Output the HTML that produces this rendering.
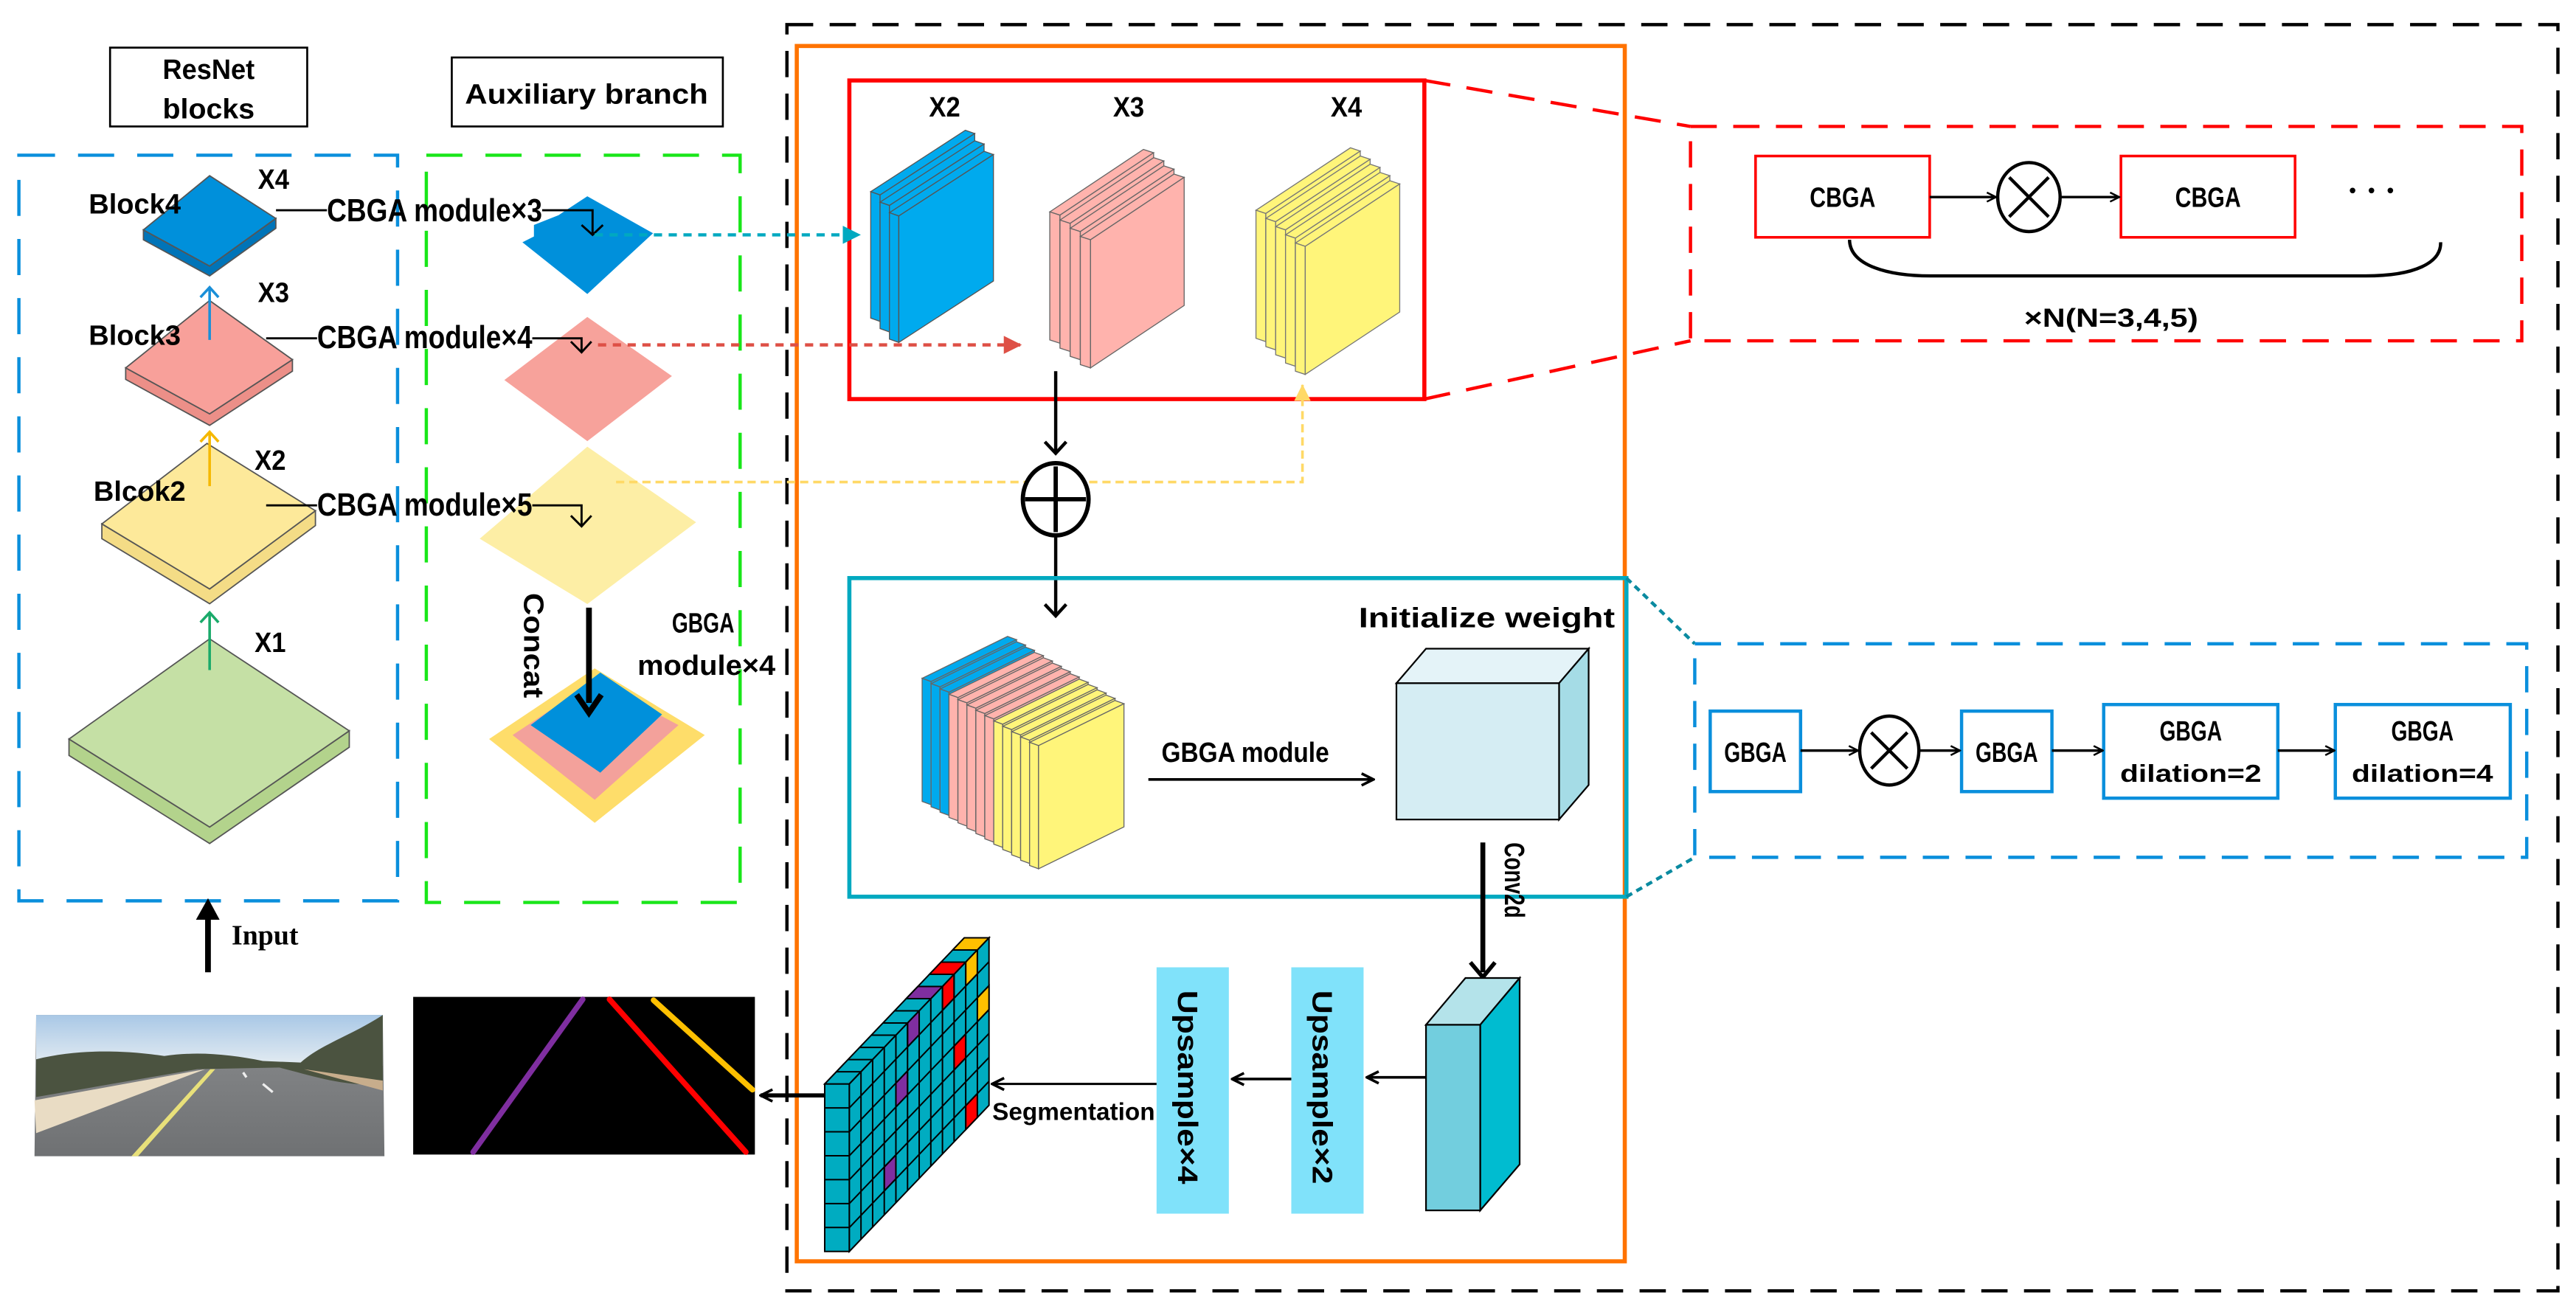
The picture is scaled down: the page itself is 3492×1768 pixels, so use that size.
<!DOCTYPE html>
<html><head><meta charset="utf-8"><style>
html,body{margin:0;padding:0;background:#fff;}
svg{display:block;}
text{font-family:"Liberation Sans","Noto Sans CJK SC",sans-serif;font-weight:bold;fill:#000;}
</style></head><body>
<svg width="3492" height="1768" viewBox="0 0 1568 794" preserveAspectRatio="none" xmlns="http://www.w3.org/2000/svg">
<defs>
<marker id="ah" viewBox="0 0 10 10" refX="9" refY="5" markerWidth="7" markerHeight="7" orient="auto" markerUnits="userSpaceOnUse"><path d="M1,1 L9,5 L1,9" fill="none" stroke="#000" stroke-width="1.6"/></marker>
<marker id="ahb" viewBox="0 0 10 10" refX="9" refY="5" markerWidth="9" markerHeight="9" orient="auto" markerUnits="userSpaceOnUse"><path d="M1,1 L9,5 L1,9" fill="none" stroke="#000" stroke-width="1.8"/></marker>
<marker id="tc" viewBox="0 0 10 10" refX="10" refY="5" markerWidth="11" markerHeight="11" orient="auto" markerUnits="userSpaceOnUse"><path d="M0,0 L10,5 L0,10z" fill="#00a9c0"/></marker>
<marker id="tr" viewBox="0 0 10 10" refX="10" refY="5" markerWidth="11" markerHeight="11" orient="auto" markerUnits="userSpaceOnUse"><path d="M0,0 L10,5 L0,10z" fill="#de5046"/></marker>
<marker id="ty" viewBox="0 0 10 10" refX="10" refY="5" markerWidth="10" markerHeight="10" orient="auto" markerUnits="userSpaceOnUse"><path d="M0,0 L10,5 L0,10z" fill="#ffd966"/></marker>
<linearGradient id="sky" x1="0" y1="0" x2="0" y2="1"><stop offset="0" stop-color="#a9c8e6"/><stop offset="1" stop-color="#e4ecf2"/></linearGradient>
<linearGradient id="road" x1="0" y1="0" x2="0" y2="1"><stop offset="0" stop-color="#8a8c8e"/><stop offset="1" stop-color="#6f7173"/></linearGradient>
<g id="slabB" stroke="#555" stroke-width="0.6">
<polygon points="0,0 5.7,2 63.3,-35.4 57.6,-37.4"/><polygon points="0,0 5.7,2 5.7,79 0,77"/><polygon points="5.7,2 63.3,-35.4 63.3,41.6 5.7,79"/>
</g>
<g id="slabP" stroke="#666" stroke-width="0.6">
<polygon points="0,0 6.2,2 63.2,-36 57,-38"/><polygon points="0,0 6.2,2 6.2,80 0,78"/><polygon points="6.2,2 63.2,-36 63.2,42 6.2,80"/>
</g>
<g id="slabY" stroke="#777" stroke-width="0.6">
<polygon points="0,0 6,2 63.5,-36 57.5,-38"/><polygon points="0,0 6,2 6,80 0,78"/><polygon points="6,2 63.5,-36 63.5,42 6,80"/>
</g>
<g id="slabC" stroke="#666" stroke-width="0.6">
<polygon points="0,0 5.45,2 57.45,-23.5 52,-25.5"/><polygon points="0,0 5.45,2 5.45,77 0,75"/><polygon points="5.45,2 57.45,-23.5 57.45,51.5 5.45,77"/>
</g>
</defs>

<!-- outer black dashed -->
<rect x="479" y="15" width="1078" height="771" fill="none" stroke="#000" stroke-width="2" stroke-dasharray="16,10"/>
<!-- orange -->
<rect x="485" y="28" width="504" height="740" fill="none" stroke="#ff7300" stroke-width="2.5"/>
<!-- left blue dashed -->
<rect x="11.5" y="94.5" width="230.5" height="454" fill="none" stroke="#0a8fdc" stroke-width="2" stroke-dasharray="22,14"/>
<!-- green dashed -->
<rect x="259.5" y="94.5" width="191" height="455" fill="none" stroke="#19e619" stroke-width="2" stroke-dasharray="22,14"/>

<!-- title boxes -->
<rect x="67" y="29" width="120" height="48" fill="#fff" stroke="#000" stroke-width="1.2"/>
<text x="127" y="48" font-size="17" text-anchor="middle" textLength="56" lengthAdjust="spacingAndGlyphs">ResNet</text>
<text x="127" y="72" font-size="17" text-anchor="middle" textLength="56" lengthAdjust="spacingAndGlyphs">blocks</text>
<rect x="275" y="35" width="165" height="42" fill="#fff" stroke="#000" stroke-width="1.2"/>
<text x="357" y="63" font-size="17" text-anchor="middle" textLength="148" lengthAdjust="spacingAndGlyphs">Auxiliary branch</text>

<!-- ResNet blocks -->
<g stroke="#555" stroke-width="0.8">
<polygon points="42,450 127.6,503.6 212.6,445 212.6,455 127.6,513.6 42,460" fill="#b3d38c"/>
<polygon points="42,450 127.6,389 212.6,445 127.6,503.6" fill="#c5e0a5"/>
<polygon points="62,319 127.6,358.6 192,311 192,320 127.6,367.6 62,328" fill="#f4dc86"/>
<polygon points="62,319 126,270 192,311 127.6,358.6" fill="#fde99a"/>
<polygon points="76.5,224 127.6,252 178,219 178,226 127.6,259 76.5,231" fill="#ec8f88"/>
<polygon points="76.5,224 127.6,183 178,219 127.6,252" fill="#f8a09a"/>
<polygon points="87.3,140 127.6,162 167.9,133 167.9,139 127.6,168 87.3,146" fill="#0074b8"/>
<polygon points="87.3,140 127.6,107 167.9,133 127.6,162" fill="#0090db"/>
</g>
<g fill="none" stroke-width="1.6">
<path d="M127.6,207 V176 M122,181 L127.6,175 L133,181" stroke="#1a8fd8"/>
<path d="M127.6,296 V264 M122,269 L127.6,263 L133,269" stroke="#f5b800"/>
<path d="M127.6,408 V374 M122,379 L127.6,373 L133,379" stroke="#1aaa6a"/>
</g>
<text x="54" y="130" font-size="17" textLength="56" lengthAdjust="spacingAndGlyphs">Block4</text>
<text x="157" y="115" font-size="17" textLength="19" lengthAdjust="spacingAndGlyphs">X4</text>
<text x="54" y="210" font-size="17" textLength="56" lengthAdjust="spacingAndGlyphs">Block3</text>
<text x="157" y="184" font-size="17" textLength="19" lengthAdjust="spacingAndGlyphs">X3</text>
<text x="57" y="305" font-size="17" textLength="56" lengthAdjust="spacingAndGlyphs">Blcok2</text>
<text x="155" y="286" font-size="17" textLength="19" lengthAdjust="spacingAndGlyphs">X2</text>
<text x="155" y="397" font-size="17" textLength="19" lengthAdjust="spacingAndGlyphs">X1</text>

<!-- aux shapes -->
<polygon points="318,147.5 325,144 325,137 340,131 357.5,119.5 397.5,142 357.5,179" fill="#0090db"/>
<polygon points="307,231.4 357.5,193 409,229 357.5,268.6" fill="#f7a29b"/>
<polygon points="292,328 357.5,272 423.7,318 357.5,367.8" fill="#fdeea5"/>
<polygon points="297.7,450 362,407 429,447.6 362,501" fill="#fedd6a"/>
<polygon points="312,447.6 362,414.5 413,441.5 362,487" fill="#f3a19b"/>
<polygon points="323,441.5 365.4,409.5 403,435 365.4,470.5" fill="#0090db"/>

<!-- CBGA module labels -->
<g stroke="#000" stroke-width="1.3" fill="none">
<path d="M168,128 H199"/><path d="M330,128 H360.7 V142"/><path d="M354,137 L360.7,143 L367,137"/>
<path d="M162,206 H193"/><path d="M324,206 H354 V214"/><path d="M347.5,208 L354,214.5 L360,208"/>
<path d="M162,307.7 H193"/><path d="M324,307.7 H354 V320"/><path d="M347.5,314 L354,320.5 L360,314"/>
</g>
<text x="199" y="134.7" font-size="19.5" textLength="131" lengthAdjust="spacingAndGlyphs">CBGA module×3</text>
<text x="193" y="212" font-size="19.5" textLength="131" lengthAdjust="spacingAndGlyphs">CBGA module×4</text>
<text x="193" y="314" font-size="19.5" textLength="131" lengthAdjust="spacingAndGlyphs">CBGA module×5</text>

<!-- concat -->
<path d="M358.5,370 V428" stroke="#000" stroke-width="3.5"/>
<path d="M351,423 L358.5,434 L366,423" stroke="#000" stroke-width="3.5" fill="none"/>
<text transform="translate(319,361) rotate(90)" font-size="17" textLength="64" lengthAdjust="spacingAndGlyphs">Concat</text>
<text x="428" y="385" font-size="17" text-anchor="middle" textLength="38" lengthAdjust="spacingAndGlyphs">GBGA</text>
<text x="430" y="411" font-size="17" text-anchor="middle" textLength="84" lengthAdjust="spacingAndGlyphs">module×4</text>

<!-- red box -->
<rect x="517" y="49" width="350" height="194" fill="none" stroke="#ff0000" stroke-width="2.5"/>
<text x="575" y="71" font-size="17" text-anchor="middle" textLength="19" lengthAdjust="spacingAndGlyphs">X2</text>
<text x="687" y="71" font-size="17" text-anchor="middle" textLength="19" lengthAdjust="spacingAndGlyphs">X3</text>
<text x="819.5" y="71" font-size="17" text-anchor="middle" textLength="19" lengthAdjust="spacingAndGlyphs">X4</text>

<!-- stacks -->
<g fill="#00aaee">
<use href="#slabB" x="530" y="116.7"/><use href="#slabB" x="535.7" y="123.1"/><use href="#slabB" x="541.4" y="129.5"/>
</g>
<g fill="#ffb3ad">
<use href="#slabP" x="639" y="129"/><use href="#slabP" x="645.2" y="134"/><use href="#slabP" x="651.4" y="139"/><use href="#slabP" x="657.6" y="144"/>
</g>
<g fill="#fff57a">
<use href="#slabY" x="764.5" y="128"/><use href="#slabY" x="770.5" y="133"/><use href="#slabY" x="776.5" y="138"/><use href="#slabY" x="782.5" y="143"/><use href="#slabY" x="788.5" y="148"/>
</g>

<!-- dotted arrows -->
<path d="M362,143 H524" stroke="#00a9c0" stroke-width="2" stroke-dasharray="5,4" fill="none" marker-end="url(#tc)"/>
<path d="M364,210 H622" stroke="#de5046" stroke-width="2" stroke-dasharray="5,4" fill="none" marker-end="url(#tr)"/>
<path d="M375,293.5 H792.8 V234" stroke="#ffd966" stroke-width="1.6" stroke-dasharray="5,3" fill="none" marker-end="url(#ty)"/>

<!-- plus circle -->
<path d="M642.6,226 V275" stroke="#000" stroke-width="2"/>
<path d="M636,269 L642.6,276 L649,269" stroke="#000" stroke-width="2" fill="none"/>
<ellipse cx="642.6" cy="304" rx="20" ry="22" fill="#fff" stroke="#000" stroke-width="2.6"/>
<path d="M624,304 H661 M642.6,284 V324" stroke="#000" stroke-width="2.6"/>
<path d="M642.6,327 V374" stroke="#000" stroke-width="2"/>
<path d="M636,368 L642.6,375 L649,368" stroke="#000" stroke-width="2" fill="none"/>

<!-- teal box -->
<rect x="517" y="352" width="473" height="194" fill="none" stroke="#00a9c0" stroke-width="2.5"/>
<g fill="#00aaee">
<use href="#slabC" x="561.3" y="413"/><use href="#slabC" x="566.75" y="416.25"/><use href="#slabC" x="572.2" y="419.5"/>
</g>
<g fill="#ffb3ad">
<use href="#slabC" x="577.65" y="422.75"/><use href="#slabC" x="583.1" y="426"/><use href="#slabC" x="588.55" y="429.25"/><use href="#slabC" x="594" y="432.5"/><use href="#slabC" x="599.45" y="435.75"/>
</g>
<g fill="#fff57a">
<use href="#slabC" x="604.9" y="439"/><use href="#slabC" x="610.35" y="442.25"/><use href="#slabC" x="615.8" y="445.5"/><use href="#slabC" x="621.25" y="448.75"/><use href="#slabC" x="626.7" y="452"/>
</g>
<text x="905" y="382" font-size="17" text-anchor="middle" textLength="156" lengthAdjust="spacingAndGlyphs">Initialize weight</text>
<text x="707" y="464" font-size="17" textLength="102" lengthAdjust="spacingAndGlyphs">GBGA module</text>
<path d="M699,474.6 H836" stroke="#000" stroke-width="1.6" fill="none" marker-end="url(#ahb)"/>
<polygon points="850,416 868,395 967,395 949,416" fill="#e4f3f8" stroke="#000" stroke-width="1"/>
<polygon points="949,416 967,395 967,478 949,499" fill="#a5dce6" stroke="#000" stroke-width="1"/>
<rect x="850" y="416" width="99" height="83" fill="#d5edf3" stroke="#000" stroke-width="1"/>
<!-- conv2d -->
<path d="M902.6,513 V592" stroke="#000" stroke-width="3"/>
<path d="M895,586 L902.6,595 L910,586" stroke="#000" stroke-width="2.5" fill="none"/>
<text transform="translate(916,513) rotate(90)" font-size="17" textLength="46" lengthAdjust="spacingAndGlyphs">Conv2d</text>
<polygon points="868,624 892,595.5 925,595.5 901,624" fill="#b4e3ea" stroke="#000" stroke-width="1"/>
<polygon points="901,624 925,595.5 925,709 901,737" fill="#00bcd0" stroke="#000" stroke-width="1"/>
<rect x="868" y="624" width="33" height="113" fill="#72cede" stroke="#000" stroke-width="1"/>

<!-- upsample -->
<rect x="704" y="589" width="44" height="150" fill="#80e2fa"/>
<rect x="786" y="589" width="44" height="150" fill="#80e2fa"/>
<text transform="translate(717,603) rotate(90)" font-size="17" textLength="118" lengthAdjust="spacingAndGlyphs">Upsample×4</text>
<text transform="translate(799,603) rotate(90)" font-size="17" textLength="118" lengthAdjust="spacingAndGlyphs">Upsample×2</text>
<path d="M868,656 H832" stroke="#000" stroke-width="1.6" marker-end="url(#ahb)"/>
<path d="M786,657 H750" stroke="#000" stroke-width="1.6" marker-end="url(#ahb)"/>
<path d="M704,660 H604" stroke="#000" stroke-width="1.4" marker-end="url(#ahb)"/>
<text x="604" y="682" font-size="15" textLength="99" lengthAdjust="spacingAndGlyphs">Segmentation</text>

<!-- grid -->
<g stroke="#000" stroke-width="0.9">
<rect x="502" y="660" width="15" height="102" fill="#00acc1"/>
<polygon points="502,660 517,660 602,571 587,571" fill="#00acc1"/>
<polygon points="517,660 602,571 602,673 517,762" fill="#00acc1"/>
<polygon points="545.33,659.47 552.42,652.06 552.42,666.63 545.33,674.04" fill="#7f2ea0"/>
<polygon points="538.25,710.61 545.33,703.19 545.33,717.76 538.25,725.18" fill="#7f2ea0"/>
<polygon points="552.42,622.92 559.5,615.5 559.5,630.07 552.42,637.49" fill="#7f2ea0"/>
<polygon points="573.67,600.67 580.75,593.25 580.75,607.82 573.67,615.24" fill="#ff0000"/>
<polygon points="580.75,636.96 587.83,629.54 587.83,644.11 580.75,651.53" fill="#ff0000"/>
<polygon points="587.83,673.26 594.92,665.84 594.92,680.41 587.83,687.83" fill="#ff0000"/>
<polygon points="587.83,585.83 594.92,578.42 594.92,592.99 587.83,600.4" fill="#ffc000"/>
<polygon points="594.92,607.56 602,600.14 602,614.71 594.92,622.13" fill="#ffc000"/>
<polygon points="551.58,608.08 566.58,608.08 573.67,600.67 558.67,600.67" fill="#7f2ea0"/>
<polygon points="565.75,593.25 580.75,593.25 587.83,585.83 572.83,585.83" fill="#ff0000"/>
<polygon points="579.92,578.42 594.92,578.42 602,571 587,571" fill="#ffc000"/>
<path fill="none" d="M502,674.57 h15 M502,689.14 h15 M502,703.71 h15 M502,718.29 h15 M502,732.86 h15 M502,747.43 h15
M524.08,652.58 v102 M531.17,645.17 v102 M538.25,637.75 v102 M545.33,630.33 v102 M552.42,622.92 v102 M559.5,615.5 v102 M566.58,608.08 v102 M573.67,600.67 v102 M580.75,593.25 v102 M587.83,585.83 v102 M594.92,578.42 v102
M517,674.57 L602,585.57 M517,689.14 L602,600.14 M517,703.71 L602,614.71 M517,718.29 L602,629.29 M517,732.86 L602,643.86 M517,747.43 L602,658.43
M509.08,652.58 h15 M516.17,645.17 h15 M523.25,637.75 h15 M530.33,630.33 h15 M537.42,622.92 h15 M544.5,615.5 h15 M551.58,608.08 h15 M558.67,600.67 h15 M565.75,593.25 h15 M572.83,585.83 h15 M579.92,578.42 h15"/>
</g>
<path d="M502,667 H463" stroke="#000" stroke-width="2.5" marker-end="url(#ahb)"/>

<!-- seg image -->
<rect x="251.5" y="607" width="208" height="96" fill="#000"/>
<g stroke-linecap="round" stroke-width="3.4">
<line x1="354.7" y1="608.5" x2="288" y2="701.5" stroke="#7f2ea0"/>
<line x1="371" y1="608.5" x2="454" y2="701.5" stroke="#ff0000"/>
<line x1="397.8" y1="609" x2="458" y2="663.5" stroke="#ffc000"/>
</g>

<!-- road image -->
<g>
<polygon points="22,618 233,618 234,704 21,704" fill="url(#road)"/>
<polygon points="22,618 233,618 233,649 22,649" fill="url(#sky)"/>
<path d="M22,645 C50,638 80,640 100,643 C120,640 140,642 160,646 L183,647 C195,636 215,630 233,618 L233,660 C210,662 190,655 170,650 L120,651 L22,668 Z" fill="#4b5340"/>
<path d="M21,670 L125,651 L22,690 Z" fill="#e9dcc4"/>
<path d="M185,651 L233,658 L233,664 Z" fill="#c7ad8c"/>
<path d="M128,651 L80,704 L84,704 L131,651 Z" fill="#e8e07a"/>
<path d="M148,653 L150,656 M160,660 L166,665" stroke="#eee" stroke-width="1.5"/>
</g>
<!-- input arrow -->
<path d="M126.6,592 V556" stroke="#000" stroke-width="3.5"/>
<path d="M121,559 L126.6,549 L132,559 Z" fill="#000" stroke="#000" stroke-width="2"/>
<text x="141" y="575" font-size="17" style="font-family:'Liberation Serif',serif">Input</text>

<!-- right red dashed detail -->
<path d="M867,49 L1029,77 M867,243 L1029,207.5" stroke="#ff0000" stroke-width="2" stroke-dasharray="16,10" fill="none"/>
<rect x="1029" y="77" width="506" height="130.5" fill="none" stroke="#ff0000" stroke-width="2" stroke-dasharray="16,10"/>
<rect x="1068.6" y="95" width="106" height="49.5" fill="none" stroke="#ff0000" stroke-width="1.6"/>
<rect x="1291" y="95" width="106" height="49.5" fill="none" stroke="#ff0000" stroke-width="1.6"/>
<text x="1121.6" y="126" font-size="17" text-anchor="middle" textLength="40" lengthAdjust="spacingAndGlyphs">CBGA</text>
<text x="1344" y="126" font-size="17" text-anchor="middle" textLength="40" lengthAdjust="spacingAndGlyphs">CBGA</text>
<path d="M1174.6,120 H1215" stroke="#000" stroke-width="1.5" marker-end="url(#ah)"/>
<ellipse cx="1235" cy="120" rx="19" ry="21" fill="none" stroke="#000" stroke-width="2"/>
<path d="M1223,108 L1247,132 M1247,108 L1223,132" stroke="#000" stroke-width="2"/>
<path d="M1254,120 H1290" stroke="#000" stroke-width="1.5" marker-end="url(#ah)"/>
<g fill="#000"><circle cx="1432" cy="116" r="1.7"/><circle cx="1443.5" cy="116" r="1.7"/><circle cx="1455" cy="116" r="1.7"/></g>
<path d="M1125.8,146 C1126,162 1150,168 1175,168 H1440 C1470,168 1486,160 1485.6,147.5" fill="none" stroke="#000" stroke-width="2"/>
<text x="1285" y="199" font-size="16" text-anchor="middle" textLength="106" lengthAdjust="spacingAndGlyphs">×N(N=3,4,5)</text>

<!-- right blue dashed detail -->
<path d="M990,352 L1031.6,392 M990,546 L1031.6,522" stroke="#0a8aa0" stroke-width="2" stroke-dasharray="4,3" fill="none"/>
<rect x="1031.6" y="392" width="506.4" height="130" fill="none" stroke="#0a8fdc" stroke-width="2" stroke-dasharray="16,10"/>
<g fill="none" stroke="#0a8fdc" stroke-width="2">
<rect x="1041" y="433" width="55" height="49"/>
<rect x="1194" y="433" width="55" height="49"/>
<rect x="1280.5" y="429" width="106" height="57"/>
<rect x="1421.5" y="429" width="106.5" height="57"/>
</g>
<text x="1068.5" y="464" font-size="17" text-anchor="middle" textLength="38" lengthAdjust="spacingAndGlyphs">GBGA</text>
<text x="1221.5" y="464" font-size="17" text-anchor="middle" textLength="38" lengthAdjust="spacingAndGlyphs">GBGA</text>
<text x="1333.5" y="451" font-size="17" text-anchor="middle" textLength="38" lengthAdjust="spacingAndGlyphs">GBGA</text>
<text x="1333.5" y="476" font-size="15" text-anchor="middle" textLength="86" lengthAdjust="spacingAndGlyphs">dilation=2</text>
<text x="1474.5" y="451" font-size="17" text-anchor="middle" textLength="38" lengthAdjust="spacingAndGlyphs">GBGA</text>
<text x="1474.5" y="476" font-size="15" text-anchor="middle" textLength="86" lengthAdjust="spacingAndGlyphs">dilation=4</text>
<path d="M1096,457 H1131" stroke="#000" stroke-width="1.6" marker-end="url(#ah)"/>
<ellipse cx="1150" cy="457" rx="18" ry="21" fill="none" stroke="#000" stroke-width="2"/>
<path d="M1139,446 L1161,468 M1161,446 L1139,468" stroke="#000" stroke-width="2"/>
<path d="M1168,457 H1193" stroke="#000" stroke-width="1.6" marker-end="url(#ah)"/>
<path d="M1249,457 H1280" stroke="#000" stroke-width="1.6" marker-end="url(#ah)"/>
<path d="M1386.5,457 H1421" stroke="#000" stroke-width="1.6" marker-end="url(#ah)"/>
</svg>
</body></html>
